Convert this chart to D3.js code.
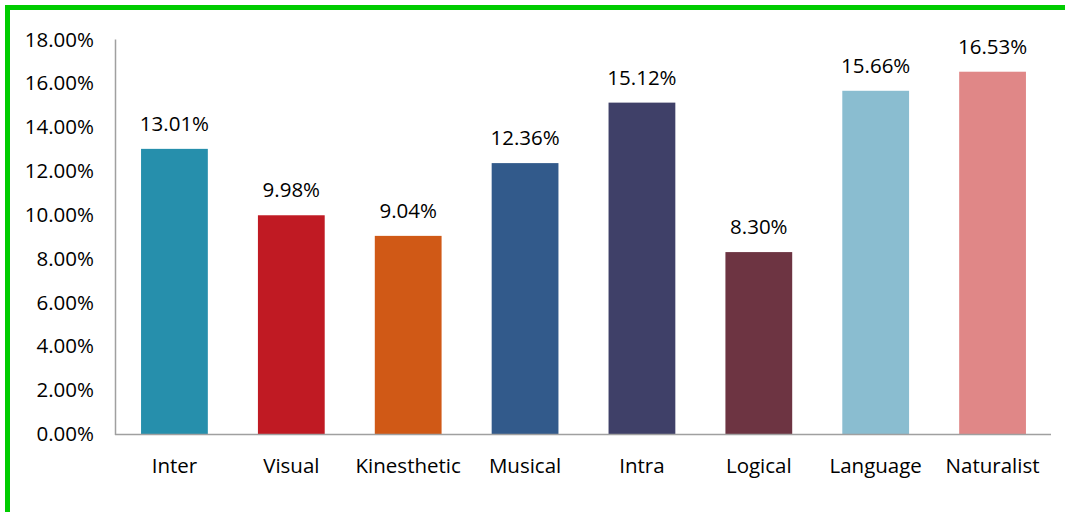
<!DOCTYPE html>
<html><head><meta charset="utf-8">
<script src="https://cdn.jsdelivr.net/npm/d3@7"></script>
<style>
html,body{margin:0;padding:0;background:#fff;overflow:hidden;}
svg{display:block;}
text{font-family:"Open Sans",sans-serif;fill:#000;}
</style></head>
<body>
<script>
const categories = ["Inter","Visual","Kinesthetic","Musical","Intra","Logical","Language","Naturalist"];
const values = [13.01, 9.98, 9.04, 12.36, 15.12, 8.30, 15.66, 16.53];
const colors = ["#268fac","#c01a23","#d05916","#325a8b","#3f4068","#6d3442","#8abdd0","#e08787"];
const yTicks = [0,2,4,6,8,10,12,14,16,18];

(function(){
const W = 1065, H = 512, FS = 20.5;
const svg = d3.select("body").append("svg").attr("width", W).attr("height", H);

// green frame (extends beyond right/bottom edges)
svg.append("rect").attr("x", 7.5).attr("y", 7.5).attr("width", W + 20).attr("height", H + 20)
  .attr("fill", "none").attr("stroke", "#00cc00").attr("stroke-width", 5);

const pl = 116, pr = 1051, pt = 39.5, pb = 434;
const x = d3.scaleBand().domain(categories).range([pl, pr]).paddingInner(0.4286).paddingOuter(0.2143);
const y = d3.scaleLinear().domain([0, 18]).range([pb, pt]);

svg.append("line").attr("x1", pl - 0.5).attr("x2", pl - 0.5).attr("y1", pt).attr("y2", pb + 1)
  .attr("stroke", "#a0a0a0").attr("stroke-width", 1.5);

svg.selectAll("rect.bar").data(categories).enter().append("rect")
  .attr("class", "bar")
  .attr("x", d => x(d)).attr("width", x.bandwidth())
  .attr("y", (d, i) => y(values[i])).attr("height", (d, i) => y(0) - y(values[i]))
  .attr("fill", (d, i) => colors[i]);

svg.append("line").attr("x1", pl - 1).attr("x2", pr).attr("y1", pb + 0.5).attr("y2", pb + 0.5)
  .attr("stroke", "#a0a0a0").attr("stroke-width", 1.5);

const yAxis = d3.axisLeft(y).tickValues(yTicks).tickFormat(d => d.toFixed(2) + "%").tickSize(0).tickPadding(22);
const ga = svg.append("g").attr("transform", `translate(${pl},0)`).call(yAxis);
ga.select(".domain").remove();
ga.selectAll("text").attr("font-size", FS).attr("font-family", '"Open Sans",sans-serif').attr("fill", "#000");

const xAxis = d3.axisBottom(x).tickSize(0).tickPadding(24);
const gx = svg.append("g").attr("transform", `translate(0,${pb})`).call(xAxis);
gx.select(".domain").remove();
gx.selectAll("text").attr("font-size", FS).attr("font-family", '"Open Sans",sans-serif').attr("fill", "#000");

svg.selectAll("text.val").data(categories).enter().append("text")
  .attr("class", "val")
  .attr("x", d => x(d) + x.bandwidth() / 2)
  .attr("y", (d, i) => y(values[i]) - 18)
  .attr("text-anchor", "middle").attr("font-size", FS)
  .text((d, i) => values[i].toFixed(2) + "%");
})();
</script>
</body></html>
